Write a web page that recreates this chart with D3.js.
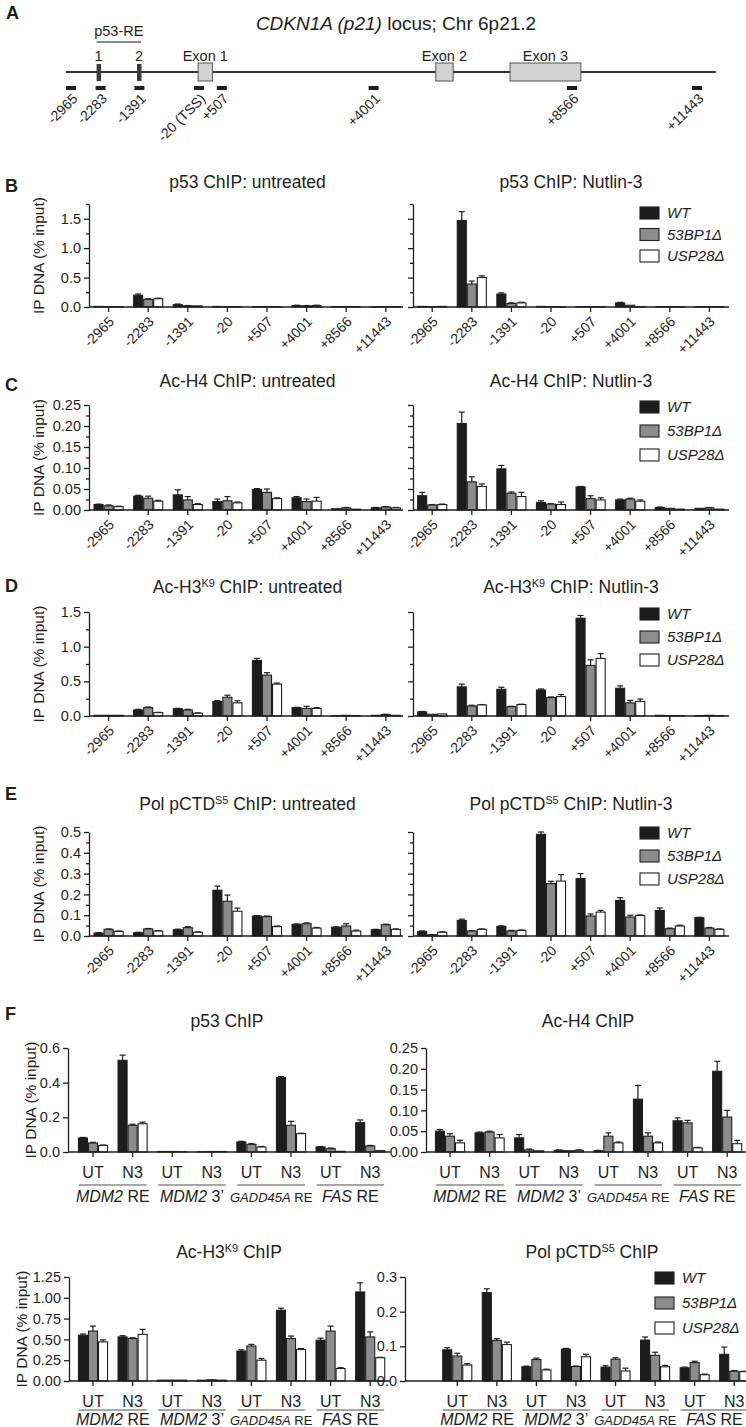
<!DOCTYPE html>
<html><head><meta charset="utf-8">
<script src="https://cdnjs.cloudflare.com/ajax/libs/d3/7.8.5/d3.min.js"></script>
<style>
body{margin:0;background:#fff;}
svg{display:block;font-family:"Liberation Sans",Arial,Helvetica,sans-serif;}
</style></head><body>
<svg id="chart" width="746" height="1427"></svg>
<script>
// ---------------- DATA ----------------
// Panel A: locus map
const locusStart = -3080, locusEnd = 11880;
const probePositions = [-2965, -2283, -1391, -20, 507, 4001, 8566, 11443];
const probeLabels = ["-2965", "-2283", "-1391", "-20 (TSS)", "+507", "+4001", "+8566", "+11443"];
const exonNames = ["Exon 1", "Exon 2", "Exon 3"];
const exonStarts = [-40, 5430, 7140];
const exonEnds = [290, 5830, 8770];
const reNames = ["1", "2"];
const rePositions = [-2330, -1400];

// Series
const seriesNames = ["WT", "53BP1Δ", "USP28Δ"];
const seriesFill = ["#1c1c1c", "#8c8c8c", "#ffffff"];

// Panels B-E: amplicons
const amplicons = ["-2965", "-2283", "-1391", "-20", "+507", "+4001", "+8566", "+11443"];

const p53Untreated = [[0.01, 0.20, 0.04, 0.01, 0.005, 0.025, 0.005, 0.005],
                      [0.005, 0.13, 0.02, 0.005, 0.005, 0.02, 0.005, 0.005],
                      [0.005, 0.14, 0.02, 0.005, 0.005, 0.025, 0.005, 0.005]];
const p53UntreatedErr = [[0, 0.02, 0.01, 0, 0, 0.005, 0, 0],
                         [0, 0.01, 0.005, 0, 0, 0.005, 0, 0],
                         [0, 0.01, 0, 0, 0, 0.005, 0, 0]];
const p53Nutlin = [[0.01, 1.47, 0.22, 0.01, 0.005, 0.07, 0.005, 0.005],
                   [0.005, 0.39, 0.06, 0.005, 0.005, 0.03, 0.005, 0.005],
                   [0.01, 0.50, 0.07, 0.005, 0.005, 0.005, 0.005, 0.005]];
const p53NutlinErr = [[0, 0.15, 0.02, 0, 0, 0.01, 0, 0],
                      [0, 0.05, 0.01, 0, 0, 0, 0, 0],
                      [0, 0.03, 0.01, 0, 0, 0, 0, 0]];

const h4Untreated = [[0.013, 0.033, 0.036, 0.020, 0.049, 0.029, 0.003, 0.005],
                     [0.010, 0.028, 0.024, 0.022, 0.042, 0.020, 0.005, 0.007],
                     [0.008, 0.021, 0.013, 0.017, 0.027, 0.021, 0.002, 0.005]];
const h4UntreatedErr = [[0.001, 0.002, 0.012, 0.006, 0.002, 0.003, 0, 0.001],
                        [0.002, 0.005, 0.008, 0.010, 0.008, 0.006, 0.001, 0.001],
                        [0.001, 0.002, 0.002, 0.002, 0.002, 0.009, 0, 0.001]];
const h4Nutlin = [[0.034, 0.206, 0.098, 0.018, 0.055, 0.024, 0.006, 0.004],
                  [0.012, 0.067, 0.040, 0.014, 0.027, 0.026, 0.004, 0.005],
                  [0.013, 0.056, 0.032, 0.013, 0.024, 0.021, 0.002, 0.002]];
const h4NutlinErr = [[0.008, 0.027, 0.008, 0.004, 0.001, 0.002, 0.001, 0],
                     [0.001, 0.012, 0.003, 0.001, 0.007, 0.002, 0, 0.001],
                     [0.001, 0.006, 0.010, 0.006, 0.005, 0.003, 0, 0]];

const h3Untreated = [[0.01, 0.087, 0.105, 0.21, 0.80, 0.12, 0.005, 0.01],
                     [0.01, 0.12, 0.087, 0.27, 0.59, 0.11, 0.01, 0.02],
                     [0.01, 0.048, 0.04, 0.19, 0.46, 0.11, 0.005, 0.01]];
const h3UntreatedErr = [[0, 0.01, 0.005, 0.01, 0.03, 0.005, 0, 0],
                        [0, 0.01, 0.01, 0.03, 0.035, 0.03, 0, 0.005],
                        [0, 0.005, 0.005, 0.03, 0.015, 0.01, 0, 0]];
const h3Nutlin = [[0.06, 0.42, 0.385, 0.375, 1.41, 0.40, 0.01, 0.005],
                  [0.025, 0.145, 0.135, 0.265, 0.73, 0.19, 0.005, 0.01],
                  [0.03, 0.16, 0.165, 0.28, 0.83, 0.21, 0.005, 0.005]];
const h3NutlinErr = [[0.005, 0.04, 0.03, 0.015, 0.04, 0.035, 0, 0],
                     [0, 0.01, 0.005, 0.01, 0.08, 0.035, 0, 0],
                     [0, 0.005, 0.005, 0.03, 0.07, 0.035, 0, 0]];

const polUntreated = [[0.014, 0.016, 0.03, 0.22, 0.096, 0.056, 0.042, 0.03],
                      [0.032, 0.034, 0.04, 0.167, 0.093, 0.059, 0.048, 0.054],
                      [0.022, 0.024, 0.018, 0.119, 0.045, 0.038, 0.024, 0.032]];
const polUntreatedErr = [[0.002, 0.002, 0.003, 0.02, 0.002, 0.002, 0.002, 0.002],
                         [0.002, 0.002, 0.005, 0.03, 0.003, 0.004, 0.011, 0.003],
                         [0.002, 0.002, 0.002, 0.015, 0.003, 0.003, 0.004, 0.002]];
const polNutlin = [[0.022, 0.075, 0.046, 0.489, 0.276, 0.171, 0.123, 0.088],
                   [0.006, 0.024, 0.024, 0.252, 0.096, 0.091, 0.035, 0.038],
                   [0.018, 0.032, 0.027, 0.264, 0.115, 0.099, 0.048, 0.032]];
const polNutlinErr = [[0.002, 0.006, 0.003, 0.011, 0.024, 0.013, 0.012, 0.002],
                      [0.001, 0.002, 0.003, 0.011, 0.01, 0.009, 0.003, 0.003],
                      [0.002, 0.002, 0.002, 0.031, 0.008, 0.002, 0.004, 0.002]];

// Panel F: other p53 targets
const targetConditions = ["UT", "N3", "UT", "N3", "UT", "N3", "UT", "N3"];
const targetGroups = [["MDM2", " RE"], ["MDM2", " 3’"], ["GADD45A", " RE"], ["FAS", " RE"]];

const fP53 = [[0.081, 0.529, 0.003, 0.002, 0.058, 0.429, 0.029, 0.169],
              [0.052, 0.154, 0.003, 0.003, 0.044, 0.154, 0.019, 0.035],
              [0.038, 0.163, 0.002, 0.003, 0.029, 0.106, 0.004, 0.008]];
const fP53Err = [[0.003, 0.03, 0, 0, 0.004, 0.006, 0.002, 0.016],
                 [0.004, 0.006, 0, 0, 0.004, 0.023, 0.004, 0.003],
                 [0.002, 0.009, 0, 0, 0.003, 0.002, 0, 0]];
const fH4 = [[0.050, 0.046, 0.034, 0.004, 0.003, 0.127, 0.075, 0.194],
             [0.038, 0.048, 0.005, 0.003, 0.038, 0.038, 0.070, 0.084],
             [0.022, 0.034, 0.003, 0.004, 0.022, 0.022, 0.010, 0.020]];
const fH4Err = [[0.004, 0.002, 0.008, 0.001, 0.001, 0.033, 0.007, 0.024],
                [0.006, 0.002, 0.002, 0, 0.008, 0.008, 0.006, 0.016],
                [0.006, 0.008, 0, 0.001, 0.002, 0.002, 0.001, 0.008]];
const fH3 = [[0.55, 0.53, 0.01, 0.01, 0.36, 0.85, 0.49, 1.07],
             [0.60, 0.51, 0.01, 0.015, 0.42, 0.51, 0.60, 0.53],
             [0.47, 0.56, 0.01, 0.01, 0.25, 0.38, 0.15, 0.28]];
const fH3Err = [[0.015, 0.015, 0, 0, 0.015, 0.025, 0.025, 0.11],
                [0.06, 0.01, 0, 0, 0.02, 0.03, 0.06, 0.06],
                [0.025, 0.06, 0, 0, 0.02, 0.01, 0.01, 0.005]];
const fPol = [[0.090, 0.255, 0.041, 0.092, 0.040, 0.118, 0.038, 0.077],
              [0.072, 0.117, 0.062, 0.042, 0.063, 0.074, 0.053, 0.028],
              [0.046, 0.105, 0.032, 0.070, 0.029, 0.041, 0.018, 0.027]];
const fPolErr = [[0.006, 0.011, 0.002, 0.002, 0.004, 0.009, 0.002, 0.021],
                 [0.008, 0.005, 0.004, 0.001, 0.004, 0.009, 0.004, 0.002],
                 [0.004, 0.007, 0.002, 0.007, 0.008, 0.004, 0.002, 0.001]];

// ---------------- DRAWING ----------------
const svg = d3.select("#chart");
const INK = "#1e1e1e";

function richText(x, y, parts, size, anchor) {
  const t = svg.append("text").attr("x", x).attr("y", y)
    .attr("text-anchor", anchor || "middle").attr("font-size", size).attr("fill", INK);
  parts.forEach(p => {
    const ts = t.append("tspan").text(p.t);
    if (p.i) ts.attr("font-style", "italic");
    if (p.fs) ts.attr("font-size", p.fs);
    if (p.dy) ts.attr("dy", p.dy);
  });
  return t;
}

function panelLetter(x, y, s) {
  svg.append("text").attr("x", x).attr("y", y).attr("font-size", 18)
    .attr("font-weight", "bold").attr("fill", INK).text(s);
}

function supTitle(x, y, pre, sup, post, size) {
  return richText(x, y, [{t: pre}, {t: sup, fs: size * 0.62, dy: -size * 0.36}, {t: post, dy: size * 0.36}], size);
}

function styleAxis(g) {
  g.selectAll("path,line").attr("stroke", INK).attr("stroke-width", 1.3);
  g.selectAll("text").attr("fill", INK).attr("font-family", null);
  g.attr("font-family", null).attr("font-size", 14.5);
}

function drawChart(cfg) {
  const g = svg.append("g");
  const x = d3.scaleBand().domain(d3.range(cfg.cats.length)).range([cfg.x0, cfg.x1])
    .paddingInner(0.24).paddingOuter(0.12);
  const xs = d3.scaleBand().domain(d3.range(seriesNames.length)).range([0, x.bandwidth()]);
  const y = d3.scaleLinear().domain([0, cfg.max]).range([cfg.yBase, cfg.yTop]);

  const flat = [];
  cfg.values.forEach((vals, j) => vals.forEach((v, i) =>
    flat.push({i, j, v, e: cfg.errors[j][i]})));

  // error bars
  const eg = g.append("g").attr("stroke", INK).attr("stroke-width", 1.2);
  flat.filter(d => d.e > 0).forEach(d => {
    const cx = x(d.i) + xs(d.j) + xs.bandwidth() / 2;
    eg.append("line").attr("x1", cx).attr("x2", cx).attr("y1", y(d.v)).attr("y2", y(d.v + d.e));
    eg.append("line").attr("x1", cx - 3).attr("x2", cx + 3).attr("y1", y(d.v + d.e)).attr("y2", y(d.v + d.e));
  });
  // bars
  g.append("g").selectAll("rect").data(flat).join("rect")
    .attr("x", d => x(d.i) + xs(d.j) + 0.5)
    .attr("width", xs.bandwidth() - 1)
    .attr("y", d => y(d.v))
    .attr("height", d => cfg.yBase - y(d.v))
    .attr("fill", d => seriesFill[d.j])
    .attr("stroke", INK).attr("stroke-width", 1.1);

  // y axis
  const ya = g.append("g").attr("transform", `translate(${cfg.axisX},0)`)
    .call(d3.axisLeft(y).tickValues(cfg.major).tickSize(5).tickSizeOuter(0).tickPadding(3)
      .tickFormat(cfg.showY ? d3.format(cfg.fmt) : ""));
  styleAxis(ya);
  if (cfg.minor) {
    const ym = g.append("g").attr("transform", `translate(${cfg.axisX},0)`)
      .call(d3.axisLeft(y).tickValues(cfg.minor).tickSize(3).tickFormat(""));
    ym.select(".domain").remove();
    styleAxis(ym);
  }
  // x axis
  const xa = g.append("g").attr("transform", `translate(0,${cfg.yBase})`)
    .call(d3.axisBottom(x).tickSize(5).tickSizeOuter(0).tickFormat(""));
  xa.select(".domain").attr("d", `M${cfg.axisX},0H${cfg.xEnd}`);
  styleAxis(xa);

  const cx = i => x(i) + x.bandwidth() / 2;
  if (cfg.rotLabels) {
    cfg.cats.forEach((c, i) => {
      g.append("text").attr("transform", `translate(${cx(i) + 3},${cfg.yBase + 12}) rotate(-45)`)
        .attr("text-anchor", "end").attr("dy", "0.35em").attr("font-size", 14)
        .attr("fill", INK).text(c);
    });
  }
  if (cfg.groups) {
    cfg.cats.forEach((c, i) => {
      g.append("text").attr("x", cx(i)).attr("y", cfg.yBase + cfg.condDy)
        .attr("text-anchor", "middle").attr("font-size", 16).attr("fill", INK).text(c);
    });
    cfg.groups.forEach((gr, k) => {
      const a = cx(2 * k), b = cx(2 * k + 1);
      g.append("line").attr("x1", a - 14).attr("x2", b + 14)
        .attr("y1", cfg.yBase + cfg.lineDy).attr("y2", cfg.yBase + cfg.lineDy)
        .attr("stroke", "#8a8a8a").attr("stroke-width", 1.6);
      const small = gr[0].length > 5;
      const t = g.append("text").attr("x", (a + b) / 2).attr("y", cfg.yBase + cfg.groupDy)
        .attr("text-anchor", "middle").attr("font-size", small ? 13 : 16).attr("fill", INK);
      t.append("tspan").attr("font-style", "italic").text(gr[0]);
      t.append("tspan").text(gr[1]);
    });
  }
  if (cfg.yLabel) {
    g.append("text").attr("transform", `translate(${cfg.yLabelX},${(cfg.yTop + cfg.yBase) / 2}) rotate(-90)`)
      .attr("text-anchor", "middle").attr("dy", "0.35em").attr("font-size", 15.5)
      .attr("fill", INK).text("IP DNA (% input)");
  }
  return g;
}

function legend(x, y0, step) {
  seriesNames.forEach((s, j) => {
    const yy = y0 + j * step;
    svg.append("rect").attr("x", x).attr("y", yy).attr("width", 19).attr("height", 12)
      .attr("fill", seriesFill[j]).attr("stroke", INK).attr("stroke-width", 1.1);
    svg.append("text").attr("x", x + 27).attr("y", yy + 6).attr("dy", "0.36em")
      .attr("font-size", 15).attr("font-style", "italic").attr("fill", INK).text(s);
  });
}

// ---------- Panel A ----------
panelLetter(6, 19, "A");
richText(396, 30, [{t: "CDKN1A (p21)", i: true}, {t: " locus; Chr 6p21.2"}], 19);
const lx = d3.scaleLinear().domain([-2965, 11443]).range([71, 697]);
svg.append("line").attr("x1", lx(locusStart)).attr("x2", lx(locusEnd)).attr("y1", 72).attr("y2", 72)
  .attr("stroke", "#333").attr("stroke-width", 1.8);
exonNames.forEach((n, k) => {
  svg.append("rect").attr("x", lx(exonStarts[k])).attr("y", 63)
    .attr("width", lx(exonEnds[k]) - lx(exonStarts[k])).attr("height", 18)
    .attr("fill", "#d2d2d2").attr("stroke", "#555").attr("stroke-width", 1);
  svg.append("text").attr("x", (lx(exonStarts[k]) + lx(exonEnds[k])) / 2).attr("y", 61)
    .attr("text-anchor", "middle").attr("font-size", 14.5).attr("fill", INK).text(n);
});
reNames.forEach((n, k) => {
  svg.append("rect").attr("x", lx(rePositions[k]) - 2).attr("y", 64).attr("width", 4.5).attr("height", 17)
    .attr("fill", "#3a3a3a");
  svg.append("text").attr("x", lx(rePositions[k])).attr("y", 61).attr("text-anchor", "middle")
    .attr("font-size", 14.5).attr("fill", INK).text(n);
});
svg.append("line").attr("x1", lx(rePositions[0]) - 2).attr("x2", lx(rePositions[1]) + 2)
  .attr("y1", 42).attr("y2", 42).attr("stroke", "#8a8a8a").attr("stroke-width", 2);
svg.append("text").attr("x", (lx(rePositions[0]) + lx(rePositions[1])) / 2).attr("y", 36)
  .attr("text-anchor", "middle").attr("font-size", 14.5).attr("fill", INK).text("p53-RE");
probePositions.forEach((p, k) => {
  svg.append("rect").attr("x", lx(p) - 5).attr("y", 86).attr("width", 10).attr("height", 4).attr("fill", INK);
  svg.append("text").attr("transform", `translate(${lx(p) + 4},${96}) rotate(-45)`)
    .attr("text-anchor", "end").attr("dy", "0.35em").attr("font-size", 14).attr("fill", INK)
    .text(probeLabels[k]);
});

// ---------- Panels B-E ----------
const locusPanels = [
  {letter: "B", ly: 192, ty: 188, yTop: 204, yBase: 307, max: 1.75, major: [0, 0.5, 1, 1.5], minor: [0.25, 0.75, 1.25, 1.75], fmt: ".1f",
   left: {pre: "p53 ChIP: untreated"}, right: {pre: "p53 ChIP: Nutlin-3"},
   vl: p53Untreated, el: p53UntreatedErr, vr: p53Nutlin, er: p53NutlinErr, legY: 207, legStep: 21.5},
  {letter: "C", ly: 391, ty: 387, yTop: 405, yBase: 510, max: 0.25, major: [0, 0.05, 0.1, 0.15, 0.2, 0.25], minor: [0.025, 0.075, 0.125, 0.175, 0.225], fmt: ".2f",
   left: {pre: "Ac-H4 ChIP: untreated"}, right: {pre: "Ac-H4 ChIP: Nutlin-3"},
   vl: h4Untreated, el: h4UntreatedErr, vr: h4Nutlin, er: h4NutlinErr, legY: 401, legStep: 24},
  {letter: "D", ly: 592, ty: 593, yTop: 612, yBase: 716, max: 1.5, major: [0, 0.5, 1, 1.5], minor: [0.25, 0.75, 1.25], fmt: ".1f",
   left: {pre: "Ac-H3", sup: "K9", post: " ChIP: untreated"}, right: {pre: "Ac-H3", sup: "K9", post: " ChIP: Nutlin-3"},
   vl: h3Untreated, el: h3UntreatedErr, vr: h3Nutlin, er: h3NutlinErr, legY: 608, legStep: 23},
  {letter: "E", ly: 800, ty: 810, yTop: 832, yBase: 936, max: 0.5, major: [0, 0.1, 0.2, 0.3, 0.4, 0.5], minor: [0.05, 0.15, 0.25, 0.35, 0.45], fmt: ".1f",
   left: {pre: "Pol pCTD", sup: "S5", post: " ChIP: untreated"}, right: {pre: "Pol pCTD", sup: "S5", post: " ChIP: Nutlin-3"},
   vl: polUntreated, el: polUntreatedErr, vr: polNutlin, er: polNutlinErr, legY: 827, legStep: 23}
];

locusPanels.forEach(P => {
  panelLetter(5, P.ly, P.letter);
  const common = {cats: amplicons, yTop: P.yTop, yBase: P.yBase, max: P.max, major: P.major, minor: P.minor, fmt: P.fmt, rotLabels: true};
  drawChart(Object.assign({}, common, {axisX: 89, x0: 88.8, x1: 405.6, xEnd: 403, showY: true,
    values: P.vl, errors: P.el, yLabel: true, yLabelX: 39}));
  drawChart(Object.assign({}, common, {axisX: 413, x0: 412.4, x1: 729.2, xEnd: 729, showY: false,
    values: P.vr, errors: P.er}));
  [["left", 247.5], ["right", 571]].forEach(([side, cxp]) => {
    const T = P[side];
    if (T.sup) supTitle(cxp, P.ty, T.pre, T.sup, T.post, 17.5);
    else richText(cxp, P.ty, [{t: T.pre}], 17.5);
  });
  legend(640, P.legY, P.legStep);
});

// ---------- Panel F ----------
panelLetter(5, 1020, "F");
const fCommon = {cats: targetConditions, groups: targetGroups, condDy: 26, lineDy: 33, groupDy: 50};
drawChart(Object.assign({}, fCommon, {axisX: 68, x0: 73.2, x1: 390, xEnd: 390, yTop: 1048, yBase: 1152, max: 0.6,
  major: [0, 0.2, 0.4, 0.6], fmt: ".1f", showY: true, values: fP53, errors: fP53Err, yLabel: true, yLabelX: 31}));
richText(227, 1027, [{t: "p53 ChIP"}], 17.5);
drawChart(Object.assign({}, fCommon, {axisX: 426, x0: 430.2, x1: 747, xEnd: 746, yTop: 1048, yBase: 1152, max: 0.25,
  major: [0, 0.05, 0.1, 0.15, 0.2, 0.25], fmt: ".2f", showY: true, values: fH4, errors: fH4Err}));
richText(588, 1027, [{t: "Ac-H4 ChIP"}], 17.5);

const fCommon2 = {cats: targetConditions, groups: targetGroups, condDy: 26, lineDy: 29, groupDy: 44};
drawChart(Object.assign({}, fCommon2, {axisX: 69, x0: 73.2, x1: 390, xEnd: 390, yTop: 1277, yBase: 1381, max: 1.25,
  major: [0, 0.25, 0.5, 0.75, 1, 1.25], fmt: ".2f", showY: true, values: fH3, errors: fH3Err, yLabel: true, yLabelX: 22}));
supTitle(229, 1258, "Ac-H3", "K9", " ChIP", 17.5);
drawChart(Object.assign({}, fCommon2, {axisX: 405, x0: 437.5, x1: 754, xEnd: 746, yTop: 1277, yBase: 1381, max: 0.3,
  major: [0, 0.1, 0.2, 0.3], fmt: ".1f", showY: true, values: fPol, errors: fPolErr}));
supTitle(592, 1258, "Pol pCTD", "S5", " ChIP", 17.5);
legend(655, 1272, 25);
</script>
</body></html>
